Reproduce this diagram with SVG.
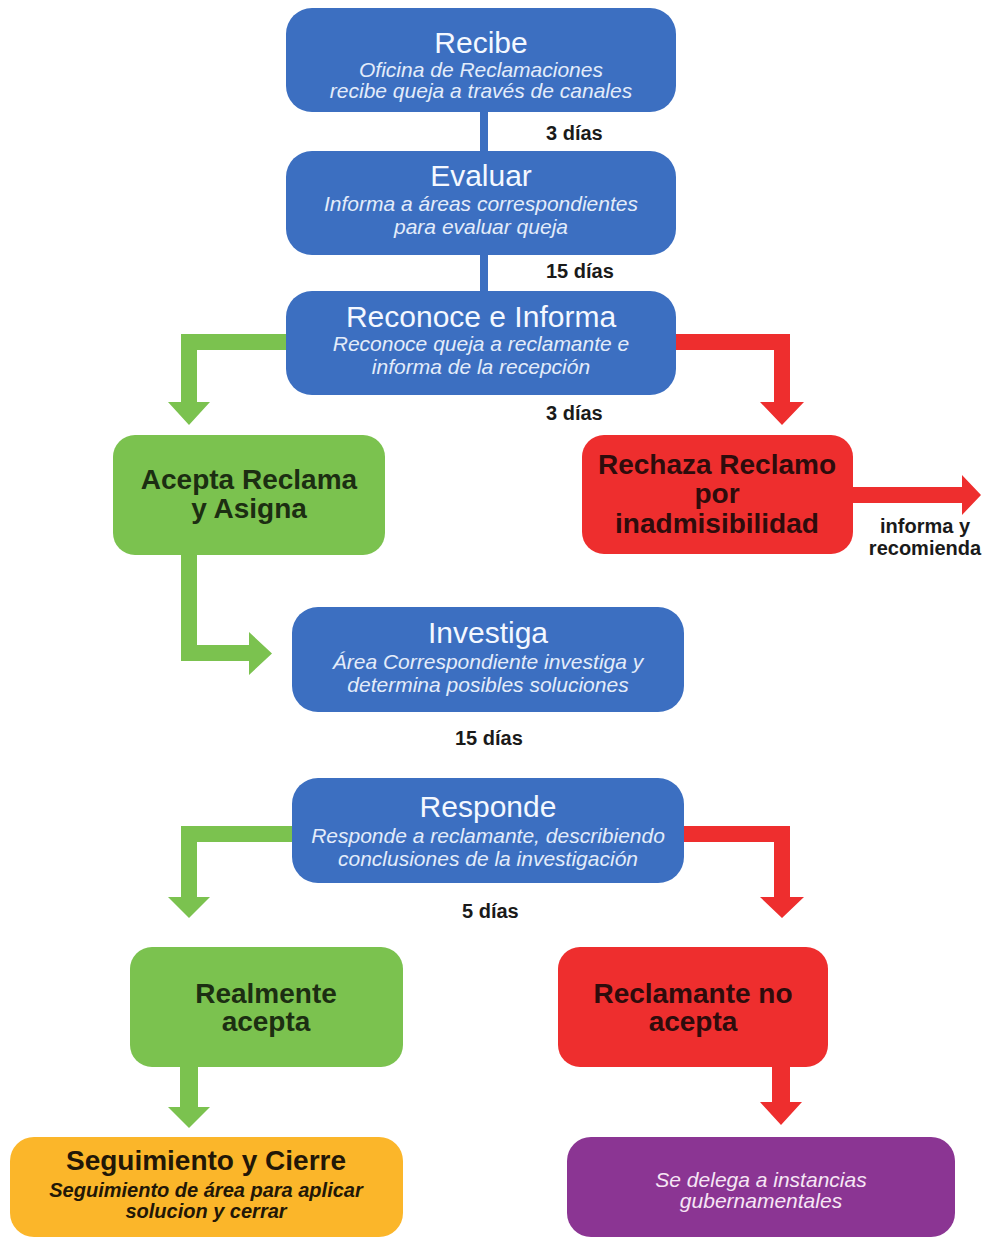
<svg xmlns="http://www.w3.org/2000/svg" width="994" height="1237" viewBox="0 0 994 1237">
<style>
.blue{fill:#3c6fc1}
.green{fill:#7bc24f}
.red{fill:#ee2e2e}
.orange{fill:#fbb62a}
.purple{fill:#8b3593}
.t{font-family:"Liberation Sans",Arial,sans-serif;text-anchor:middle}
.bt{font-size:30px;fill:#f4f8ff}
.bs{font-size:21px;font-style:italic;fill:#e3ecfa}
.dk{font-size:28px;font-weight:bold}
.gt{fill:#1c2e12}
.rt{fill:#2e0c0c}
.ot{fill:#221707}
.os{font-size:20px;font-weight:bold;font-style:italic;fill:#221707}
.ps{font-size:21px;font-style:italic;fill:#f6e6f5}
.days{font-family:"Liberation Sans",Arial,sans-serif;font-size:20px;font-weight:bold;fill:#1a1a1a}
</style>
<rect width="994" height="1237" fill="#ffffff"/>
<g id="connectors">
  <rect class="blue" x="480" y="110" width="8" height="43"/>
  <rect class="blue" x="480" y="253" width="8" height="40"/>
  <path class="green" d="M288,334 L181,334 L181,402 L168,402 L189,425 L210,402 L197,402 L197,350 L288,350 Z"/>
  <path class="red" d="M674,334 L790,334 L790,402 L804,402 L782,425 L760,402 L774,402 L774,350 L674,350 Z"/>
  <path class="red" d="M851,487 L962,487 L962,475 L981,495 L962,515 L962,503 L851,503 Z"/>
  <path class="green" d="M181,553 L197,553 L197,645 L249,645 L249,632 L272,653.5 L249,675 L249,661 L181,661 Z"/>
  <path class="green" d="M294,826 L181,826 L181,897 L168,897 L189,918 L210,897 L197,897 L197,842 L294,842 Z"/>
  <path class="red" d="M682,826 L790,826 L790,897 L804,897 L782,918 L760,897 L774,897 L774,842 L682,842 Z"/>
  <path class="green" d="M180,1065 L198,1065 L198,1107 L210,1107 L189,1128 L168,1107 L180,1107 Z"/>
  <path class="red" d="M772,1065 L790,1065 L790,1102 L802,1102 L781,1125 L760,1102 L772,1102 Z"/>
  <text class="days" x="546" y="140">3 días</text>
  <text class="days" x="546" y="278">15 días</text>
  <text class="days" x="546" y="420">3 días</text>
  <text class="days" x="455" y="745">15 días</text>
  <text class="days" x="462" y="918">5 días</text>
  <text class="t days" x="925" y="533" style="text-anchor:middle">informa y</text>
  <text class="t days" x="925" y="555" style="text-anchor:middle">recomienda</text>
</g>
<g id="recibe">
  <rect class="blue" x="286" y="8" width="390" height="104" rx="26"/>
  <text class="t bt" x="481" y="53">Recibe</text>
  <text class="t bs" x="481" y="77">Oficina de Reclamaciones</text>
  <text class="t bs" x="481" y="98">recibe queja a través de canales</text>
</g>
<g id="evaluar">
  <rect class="blue" x="286" y="151" width="390" height="104" rx="26"/>
  <text class="t bt" x="481" y="186">Evaluar</text>
  <text class="t bs" x="481" y="211">Informa a áreas correspondientes</text>
  <text class="t bs" x="481" y="234">para evaluar queja</text>
</g>
<g id="reconoce">
  <rect class="blue" x="286" y="291" width="390" height="104" rx="26"/>
  <text class="t bt" x="481" y="327">Reconoce e Informa</text>
  <text class="t bs" x="481" y="351">Reconoce queja a reclamante e</text>
  <text class="t bs" x="481" y="374">informa de la recepción</text>
</g>
<g id="acepta">
  <rect class="green" x="113" y="435" width="272" height="120" rx="22"/>
  <text class="t dk gt" x="249" y="489">Acepta Reclama</text>
  <text class="t dk gt" x="249" y="518">y Asigna</text>
</g>
<g id="rechaza">
  <rect class="red" x="582" y="435" width="271" height="119" rx="22"/>
  <text class="t dk rt" x="717" y="474">Rechaza Reclamo</text>
  <text class="t dk rt" x="717" y="503">por</text>
  <text class="t dk rt" x="717" y="533">inadmisibilidad</text>
</g>
<g id="investiga">
  <rect class="blue" x="292" y="607" width="392" height="105" rx="26"/>
  <text class="t bt" x="488" y="643">Investiga</text>
  <text class="t bs" x="488" y="669">Área Correspondiente investiga y</text>
  <text class="t bs" x="488" y="692">determina posibles soluciones</text>
</g>
<g id="responde">
  <rect class="blue" x="292" y="778" width="392" height="105" rx="26"/>
  <text class="t bt" x="488" y="817">Responde</text>
  <text class="t bs" x="488" y="843">Responde a reclamante, describiendo</text>
  <text class="t bs" x="488" y="866">conclusiones de la investigación</text>
</g>
<g id="realmente">
  <rect class="green" x="130" y="947" width="273" height="120" rx="22"/>
  <text class="t dk gt" x="266" y="1003">Realmente</text>
  <text class="t dk gt" x="266" y="1031">acepta</text>
</g>
<g id="noacepta">
  <rect class="red" x="558" y="947" width="270" height="120" rx="22"/>
  <text class="t dk rt" x="693" y="1003">Reclamante no</text>
  <text class="t dk rt" x="693" y="1031">acepta</text>
</g>
<g id="seguimiento">
  <rect class="orange" x="10" y="1137" width="393" height="100" rx="24"/>
  <text class="t dk ot" x="206" y="1170">Seguimiento y Cierre</text>
  <text class="t os" x="206" y="1197">Seguimiento de área para aplicar</text>
  <text class="t os" x="206" y="1218">solucion y cerrar</text>
</g>
<g id="delega">
  <rect class="purple" x="567" y="1137" width="388" height="100" rx="24"/>
  <text class="t ps" x="761" y="1187">Se delega a instancias</text>
  <text class="t ps" x="761" y="1208">gubernamentales</text>
</g>
</svg>
